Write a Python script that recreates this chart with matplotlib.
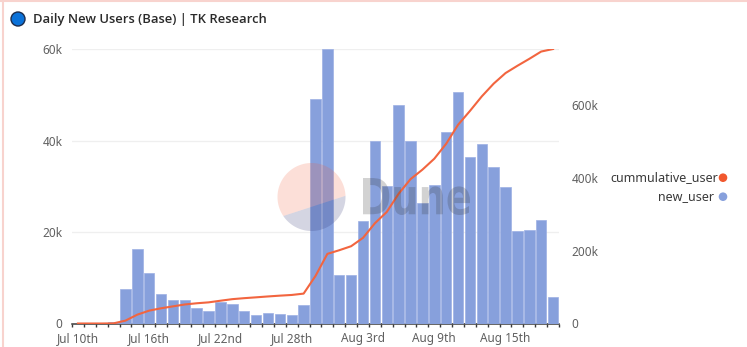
import numpy as np
import matplotlib
matplotlib.use("Agg")
import matplotlib.pyplot as plt
from matplotlib.patches import Circle, Polygon, Rectangle, PathPatch
from matplotlib.textpath import TextPath
from matplotlib.font_manager import FontProperties
from matplotlib.transforms import Affine2D
from matplotlib.ticker import FuncFormatter, FixedLocator

# Daily data, Jul 10th .. Aug 19th
new_user = [0, 0, 0, 400, 7500, 16200, 11000, 6400, 5100, 5100,
            3300, 2700, 4800, 4200, 2700, 1900, 2300, 2000, 1800, 4100,
            49100, 59900, 10700, 10500, 22400, 40000, 30000, 47700, 40000, 26300,
            30300, 41900, 50600, 36500, 39300, 34100, 29800, 20200, 20400, 22700,
            5900]
cummulative_user = [0, 0, 0, 400, 7900, 24300, 35300, 41800, 47000, 52200,
                    55500, 58000, 62500, 66800, 69500, 71800, 74200, 76400, 78300, 82000,
                    130500, 191000, 201000, 212000, 235000, 275000, 306000, 356000, 396000, 422000,
                    452000, 493000, 545000, 583000, 623000, 658000, 687000, 707000, 726000, 746000,
                    753000]
tick_index = [0, 6, 12, 18, 24, 30, 36]
tick_labels = ["Jul 10th", "Jul 16th", "Jul 22nd", "Jul 28th", "Aug 3rd", "Aug 9th", "Aug 15th"]
left_ticks = [0, 20000, 40000, 60000]
right_ticks = [0, 200000, 400000, 600000]

BAR = "#87a0dc"
LINE = "#f2653f"
TICK_COLOR = "#606060"
FONT = "Noto Sans"

plt.rcParams["font.family"] = [FONT, "DejaVu Sans"]

W, H = 747, 347
fig = plt.figure(figsize=(W / 100, H / 100), dpi=100)
fig.patch.set_facecolor("white")

x = np.arange(len(new_user))
ax = fig.add_axes([72 / W, 1 - 323.5 / H, (559 - 72) / W, (323.5 - 49) / H])
ax.bar(x, new_user, width=0.88, color=BAR, edgecolor="#9db0e4", linewidth=0.5, zorder=2)
ax.set_xlim(-0.5, len(new_user) - 0.5)
ax.set_ylim(0, max(left_ticks))

kfmt = FuncFormatter(lambda v, p: "0" if v == 0 else f"{int(v / 1000)}k")
ax.yaxis.set_major_locator(FixedLocator(left_ticks))
ax.yaxis.set_major_formatter(kfmt)
ax.grid(axis="y", color="#efefef", linewidth=0.9, zorder=0)
ax.set_axisbelow(True)
for s in ("top", "left", "right"):
    ax.spines[s].set_visible(False)
ax.spines["bottom"].set_color("#3a3a3a")
ax.spines["bottom"].set_linewidth(1.1)
ax.spines["bottom"].set_zorder(1)

ax.set_xticks(tick_index)
ax.set_xticklabels(tick_labels)
ax.set_xticks(np.arange(len(new_user) + 1) - 0.5, minor=True)
ax.tick_params(axis="x", which="major", length=0, pad=6, labelsize=8.5, labelcolor=TICK_COLOR)
ax.tick_params(axis="x", which="minor", length=2.2, width=1, color="#3a3a3a")
ax.tick_params(axis="y", length=0, pad=7, labelsize=8.5, labelcolor=TICK_COLOR)

ax2 = ax.twinx()
ax2.plot(x, cummulative_user, color=LINE, linewidth=1.5, zorder=3, solid_joinstyle="round")
ax2.set_ylim(0, max(cummulative_user))
ax2.yaxis.set_major_locator(FixedLocator(right_ticks))
ax2.yaxis.set_major_formatter(kfmt)
for s in ax2.spines.values():
    s.set_visible(False)
ax2.tick_params(axis="y", length=0, pad=9, labelsize=8.5, labelcolor=TICK_COLOR)

# Overlay in pixel coordinates for title, card border, legend and watermark
ov = fig.add_axes([0, 0, 1, 1])
ov.set_xlim(0, W)
ov.set_ylim(H, 0)
ov.axis("off")
ov.patch.set_alpha(0)

ov.plot([3, 3], [0, H], color="#f8d3ce", linewidth=1.5)
ov.plot([0, W], [1.2, 1.2], color="#f8d3ce", linewidth=1.5)

ov.add_patch(Circle((18, 19), 7.0, facecolor="#0b72d9", edgecolor="#1c2c4c", linewidth=1.0))
ov.text(33, 19.5, "Daily New Users (Base) | TK Research",
        fontfamily=["Open Sans", "DejaVu Sans"], fontsize=9.4, fontweight="semibold",
        color="#2a2a2a", va="center", ha="left")

# watermark logo
cx, cy, r = 311.5, 197, 34
th_low = np.radians(np.linspace(214, 362, 80))
th_up = np.radians(np.linspace(2, 214, 120))
low = np.column_stack([cx + r * np.cos(th_low), cy - r * np.sin(th_low)])
up = np.column_stack([cx + r * np.cos(th_up), cy - r * np.sin(th_up)])
ov.add_patch(Polygon(up, closed=True, facecolor="#f4603e", alpha=0.2, edgecolor="none"))
ov.add_patch(Polygon(low, closed=True, facecolor="#2a2d6e", alpha=0.2, edgecolor="none"))

wm = TextPath((0, 0), "Dune", size=40, prop=FontProperties(family="DejaVu Sans", weight="bold"))
ext = wm.get_extents()
wm_tr = (Affine2D().translate(-ext.x0, -ext.y0)
         .scale(107 / ext.width, -37 / ext.height).translate(363, 215))
ov.add_patch(PathPatch(wm, transform=wm_tr + ov.transData, facecolor="#333333",
                       edgecolor="none", alpha=0.22))

# legend
ov.add_patch(Circle((723, 177.7), 4.3, facecolor="#f1582e", edgecolor="none"))
ov.add_patch(Circle((723, 196.7), 4.3, facecolor=BAR, edgecolor="none"))
t1 = ov.text(610, 178, "cummulative_user", fontsize=9, color="#3a3a3a", va="center", ha="left")
t1.set_clip_path(Rectangle((600, 160), 114, 40, transform=ov.transData))
ov.text(714, 197, "new_user", fontsize=9, color="#3a3a3a", va="center", ha="right")

fig.savefig("out.png", dpi=100, facecolor="white")
